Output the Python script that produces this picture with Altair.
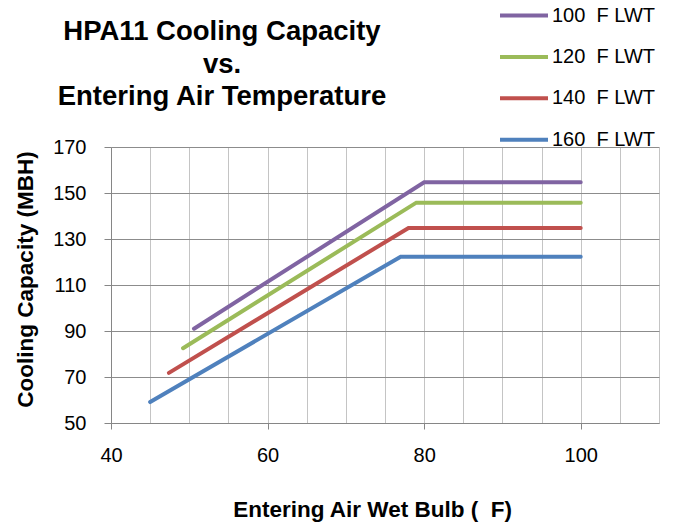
import altair as alt
import pandas as pd

series = ["100 \u00a0F LWT", "120 \u00a0F LWT", "140 \u00a0F LWT", "160 \u00a0F LWT"]
colors = ["#8064A2", "#9BBB59", "#C0504D", "#4F81BD"]
# (start, break, end) points per series
xs = [
    [50.6, 80.0, 100.0],
    [49.2, 79.0, 100.0],
    [47.4, 78.0, 100.0],
    [45.0, 77.0, 100.0],
]
ys = [
    [91.0, 154.7, 154.7],
    [82.5, 145.8, 145.8],
    [71.8, 134.8, 134.8],
    [59.1, 122.3, 122.3],
]
x_grid = list(range(40, 111, 5))
y_ticks = list(range(50, 171, 20))

rows = []
for s, xv, yv in zip(series, xs, ys):
    for i, (a, b) in enumerate(zip(xv, yv)):
        rows.append({"series": s, "ewb": a, "cap": b, "order": i})
df = pd.DataFrame(rows)

FONT = "Liberation Sans"

chart = alt.Chart(df).mark_line(strokeWidth=4, strokeCap="round").encode(
    x=alt.X(
        "ewb:Q",
        scale=alt.Scale(domain=[40, 110], nice=False, zero=False),
        axis=alt.Axis(
            values=x_grid,
            labelExpr="datum.value % 20 == 0 ? datum.label : ''",
            grid=True,
            gridColor="#C4C4C4",
            gridWidth=1,
            domainColor="#868686",
            tickColor={"condition": {"test": "datum.value % 20 == 0", "value": "#868686"}, "value": "transparent"},
            tickSize=6,
            labelFontSize=20,
            labelFont=FONT,
            labelColor="#000000",
            labelPadding=16,
            labelFlush=False,
            labelOverlap=False,
            title="Entering Air Wet Bulb ( \u00a0F)",
            titleFont=FONT,
            titleFontSize=22.5,
            titleFontWeight="bold",
            titleColor="#000000",
            titleX=261,
            titleY=86,
            titleAlign="center",
            titleBaseline="middle",
        ),
    ),
    y=alt.Y(
        "cap:Q",
        scale=alt.Scale(domain=[50, 170], nice=False, zero=False),
        axis=alt.Axis(
            values=y_ticks,
            grid=True,
            gridColor="#8C8C8C",
            gridWidth=1,
            domainColor="#868686",
            tickColor="#868686",
            tickSize=7,
            labelFontSize=20,
            labelFont=FONT,
            labelColor="#000000",
            labelPadding=18,
            labelFlush=False,
            title="Cooling Capacity (MBH)",
            titleFont=FONT,
            titleFontSize=22.5,
            titleFontWeight="bold",
            titleColor="#000000",
            titleX=-86,
            titleY=132,
            titleAlign="center",
            titleBaseline="middle",
            titleAngle=270,
        ),
    ),
    color=alt.Color(
        "series:N",
        scale=alt.Scale(domain=series, range=colors),
        legend=alt.Legend(
            orient="none",
            legendX=387,
            legendY=-145.5,
            title=None,
            symbolType="stroke",
            symbolSize=2304,
            symbolStrokeWidth=4,
            clipHeight=28,
            rowPadding=13.4,
            labelFontSize=20,
            labelFont=FONT,
            labelColor="#000000",
            labelOffset=2,
        ),
    ),
    order="order:Q",
).properties(
    width=548,
    height=276,
    autosize=alt.AutoSizeParams(type="none"),
    padding={"left": 103, "top": 139, "right": 7, "bottom": 100},
    title=alt.TitleParams(
        text=["HPA11 Cooling Capacity", "vs.", "Entering Air Temperature"],
        font=FONT,
        fontSize=27.5,
        fontWeight="bold",
        color="#000000",
        anchor="start",
        align="center",
        frame="group",
        dx=111,
        dy=109,
        lineHeight=32.5,
        offset=0,
    ),
).configure_view(stroke=None)

chart.save("out.html", embed_options={"renderer": "svg", "actions": False})
